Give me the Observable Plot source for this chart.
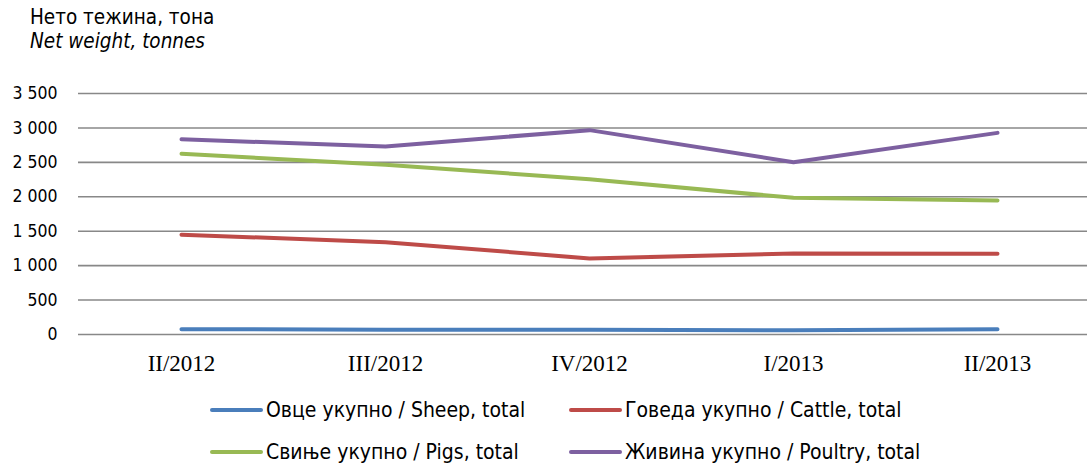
<!DOCTYPE html>
<html>
<head>
<meta charset="utf-8">
<script src="https://cdn.jsdelivr.net/npm/d3@7"></script>
<script src="https://cdn.jsdelivr.net/npm/@observablehq/plot@0.6"></script>
<style>
  html, body { margin: 0; padding: 0; background: #fff; }
  body { width: 1087px; height: 465px; position: relative; overflow: hidden; font-family: "DejaVu Sans Condensed", "DejaVu Sans", sans-serif; color: #000; }
  #title { position: absolute; left: 30px; top: 5px; font-size: 20.5px; line-height: 24px; }
  #title .en { font-style: italic; }
  #chart { position: absolute; left: 0; top: 70px; }
  #legend { position: absolute; left: 0; top: 390px; width: 1087px; }
  .item { position: absolute; display: flex; align-items: center; font-size: 21px; white-space: nowrap; }
  .sw { width: 53px; height: 4px; border-radius: 2px; margin-right: 3px; }
</style>
</head>
<body>
<div id="title"><div>Нето тежина, тона</div><div class="en">Net weight, tonnes</div></div>
<div id="chart"></div>
<div id="legend"></div>
<script>
const quarters = ["II/2012", "III/2012", "IV/2012", "I/2013", "II/2013"];
const seriesNames = [
  "Овце укупно / Sheep, total",
  "Говеда укупно / Cattle, total",
  "Свиње укупно / Pigs, total",
  "Живина укупно / Poultry, total"
];
const sheep = [78, 70, 68, 62, 76];
const cattle = [1450, 1340, 1105, 1175, 1172];
const pigs = [2625, 2465, 2255, 1985, 1945];
const poultry = [2835, 2732, 2968, 2502, 2928];
const colors = ["#4a7ebb", "#be4b48", "#98b954", "#7d60a0"];
const yTicks = [0, 500, 1000, 1500, 2000, 2500, 3000, 3500];

const seriesValues = [sheep, cattle, pigs, poultry];
const data = [];
seriesNames.forEach((name, i) => {
  quarters.forEach((q, j) => data.push({series: name, quarter: q, value: seriesValues[i][j]}));
});

const fmt = d => d3.format(",")(d).replace(/,/g, " ");

const chart = Plot.plot({
  width: 1087,
  height: 320,
  marginTop: 23,
  marginBottom: 56,
  marginLeft: 78,
  marginRight: 0,
  style: {background: "transparent", overflow: "visible"},
  x: {type: "point", domain: quarters, range: [180, 997], padding: 0, label: null},
  y: {domain: [0, 3500], label: null},
  color: {domain: seriesNames, range: colors},
  marks: [
    Plot.gridY(yTicks, {stroke: "#888", strokeOpacity: 1, strokeWidth: 1.6}),
    Plot.axisY(yTicks, {tickSize: 0, tickPadding: 21, tickFormat: fmt, fontSize: 17.5, fontFamily: "DejaVu Sans Condensed", fill: "#000"}),
    Plot.axisX({tickSize: 0, tickPadding: 20, fontSize: 23, fontFamily: "Liberation Serif", fill: "#000"}),
    Plot.line(data, {x: "quarter", y: "value", z: "series", stroke: "series", strokeWidth: 4, strokeLinecap: "round", strokeLinejoin: "round"})
  ]
});
document.getElementById("chart").appendChild(chart);

const legend = document.getElementById("legend");
const pos = [[210, 20], [569, 20], [210, 62], [569, 62]];
seriesNames.forEach((name, i) => {
  const it = document.createElement("div");
  it.className = "item";
  it.style.left = pos[i][0] + "px";
  it.style.top = (pos[i][1] - 13) + "px";
  it.style.height = "26px";
  const sw = document.createElement("span");
  sw.className = "sw";
  sw.style.background = colors[i];
  const tx = document.createElement("span");
  tx.textContent = name;
  it.appendChild(sw);
  it.appendChild(tx);
  legend.appendChild(it);
});
</script>
</body>
</html>
